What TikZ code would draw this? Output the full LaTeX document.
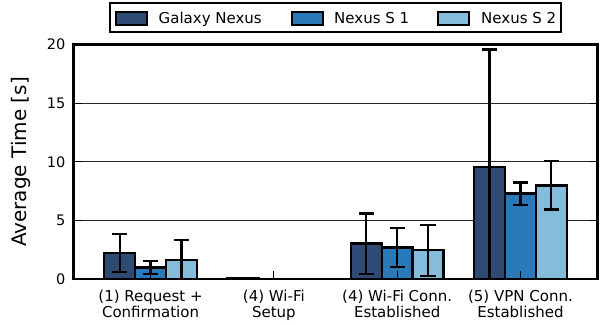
\documentclass[tikz,border=0pt]{standalone}
\usepackage{fontspec}
\setmainfont{DejaVu Sans}
\definecolor{galaxy}{HTML}{2F4B73}
\definecolor{nexusa}{HTML}{2A79B8}
\definecolor{nexusb}{HTML}{85BCDC}
\begin{document}
\begin{tikzpicture}[x=1pt,y=1pt,
  barbox/.style={draw=black, line width=2.3pt},
  errline/.style={draw=black, line width=2.3pt},
  gridline/.style={draw=black!85, line width=0.9pt},
  tickmark/.style={draw=black, line width=1pt},
  axisframe/.style={draw=black, line width=2.3pt},
  ticklabel/.style={font=\fontsize{14.5}{16}\selectfont, inner sep=0pt},
  grouplabel/.style={font=\fontsize{15}{16}\selectfont, align=center, inner sep=0pt, anchor=north},
  legendtext/.style={font=\fontsize{15}{16}\selectfont, inner sep=0pt, anchor=base west},
  legendpatch/.style={draw=black, line width=1.8pt},
]
\useasboundingbox (0,0) rectangle (601,324);

% ---- plot area: x in category units, y in seconds ----
\begin{scope}[shift={(73.5,44.7)}, x=123.3pt, y=11.735pt]
  % horizontal grid
  \foreach \v in {5,10,15}
    \draw[gridline] (0,\v) -- (4.25,\v);

  % bars: group / position / mean / colour
  \foreach \g/\k/\h/\c in {
      0/0/2.22/galaxy, 0/1/1.00/nexusa, 0/2/1.62/nexusb,
      1/0/0.13/galaxy, 1/1/0.03/nexusa, 1/2/0.03/nexusb,
      2/0/3.04/galaxy, 2/1/2.70/nexusa, 2/2/2.48/nexusb,
      3/0/9.57/galaxy, 3/1/7.30/nexusa, 3/2/8.00/nexusb}
    \draw[barbox, fill=\c] ({0.25+\g+0.25*\k},0) rectangle ++(0.25,\h);

  % error bars (standard deviation), clipped to the axes
  \begin{scope}
    \clip (0,0) rectangle (4.25,20.5);
    \foreach \g/\k/\h/\e in {
        0/0/2.22/1.62, 0/1/1.00/0.56, 0/2/1.62/1.73,
        2/0/3.04/2.58, 2/1/2.70/1.65, 2/2/2.48/2.17,
        3/0/9.57/10.02, 3/1/7.30/0.95, 3/2/8.00/2.06} {
      \pgfmathsetmacro\xm{0.375+\g+0.25*\k}
      \draw[errline] (\xm,{\h-\e}) -- (\xm,{\h+\e});
      \draw[errline] ({\xm-0.061},{\h+\e}) -- ({\xm+0.061},{\h+\e});
      \draw[errline] ({\xm-0.061},{\h-\e}) -- ({\xm+0.061},{\h-\e});
    }
  \end{scope}

  % ticks
  \foreach \v in {0,5,...,20} {
    \draw[tickmark] (0,\v) -- ++(8pt,0);
    \draw[tickmark] (4.25,\v) -- ++(-8pt,0);
    \node[ticklabel, anchor=east] at ([xshift=-8pt]0,\v) {\v};
  }
  \foreach \g in {0,1,2,3}
    \draw[tickmark] ({0.625+\g},0) -- ++(0,8pt);

  % frame
  \draw[axisframe] (0,0) rectangle (4.25,20);

  % category labels
  \node[grouplabel] (g1) at ([yshift=-10.7pt]0.625,0) {(1) Request +\\Confirmation};
  \node[grouplabel] (g2) at ([yshift=-10.7pt]1.625,0) {(4) Wi-Fi\\Setup};
  \node[grouplabel] (g3) at ([yshift=-10.7pt]2.625,0) {(4) Wi-Fi Conn.\\Established};
  \node[grouplabel] (g4) at ([yshift=-10.7pt]3.625,0) {(5) VPN Conn.\\Established};
\end{scope}

% axis title
\node[rotate=90, font=\fontsize{20}{24}\selectfont, inner sep=0pt] (ylabel) at (21,162) {Average Time [s]};

% legend
\node[draw=black, line width=2pt, minimum width=451pt, minimum height=29pt, inner sep=0pt] (legend) at (335.5,306) {};
\draw[legendpatch, fill=galaxy] (116,299) rectangle (146.7,312.3);
\draw[legendpatch, fill=nexusa] (291.7,299) rectangle (322.7,312.3);
\draw[legendpatch, fill=nexusb] (438,299) rectangle (469,312.3);
\node[legendtext] (lg1) at (158.5,300.5) {Galaxy Nexus};
\node[legendtext] (lg2) at (334,300.5) {Nexus S 1};
\node[legendtext] (lg3) at (481,300.5) {Nexus S 2};
\end{tikzpicture}
\end{document}
